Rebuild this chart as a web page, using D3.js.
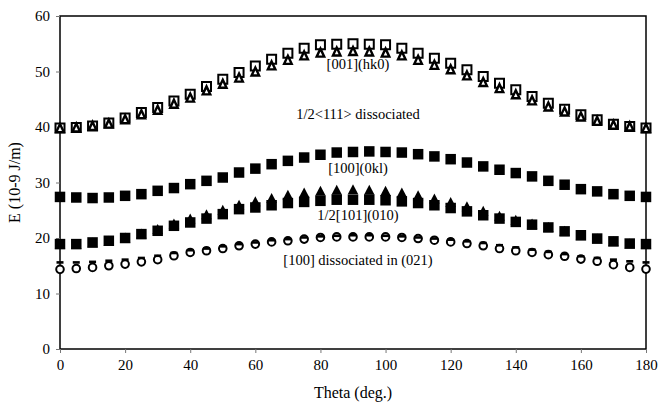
<!DOCTYPE html>
<html>
<head>
<meta charset="utf-8">
<script src="https://cdn.jsdelivr.net/npm/d3@7"></script>
<style>
  body { margin: 0; background: #fff; }
  svg { display: block; font-family: "Liberation Serif", "Times New Roman", serif; }
</style>
</head>
<body>
<div id="chart"></div>
<script>
// theta every 5 degrees
const theta = d3.range(0, 181, 5)

// [001](hk0) pair
const hk0Squares = [39.8, 39.9, 40.2, 40.7, 41.6, 42.6, 43.5, 44.7, 45.9, 47.3, 48.6, 49.8, 51.0, 52.2, 53.3, 54.2, 54.8, 54.9, 55.0,
  54.9, 54.8, 54.2, 53.3, 52.4, 51.5, 50.3, 49.1, 47.9, 46.7, 45.5, 44.3, 43.2, 42.2, 41.3, 40.5, 40.1, 39.8]
const hk0Triangles = [39.8, 39.9, 40.2, 40.6, 41.4, 42.3, 43.1, 44.2, 45.3, 46.6, 47.8, 48.9, 50.0, 51.1, 52.1, 52.9, 53.4, 53.6, 53.7,
  53.6, 53.4, 52.9, 52.1, 51.2, 50.4, 49.3, 48.1, 47.0, 45.9, 44.8, 43.7, 42.8, 41.9, 41.1, 40.4, 40.1, 39.8]

// 1/2<111> dissociated
const diss111 = [27.4, 27.3, 27.2, 27.3, 27.6, 27.9, 28.5, 29.0, 29.7, 30.3, 30.9, 31.8, 32.5, 33.3, 33.9, 34.5, 35.0, 35.4, 35.5,
  35.6, 35.5, 35.4, 35.1, 34.7, 34.2, 33.6, 32.9, 32.3, 31.7, 31.1, 30.3, 29.6, 28.8, 28.4, 27.9, 27.6, 27.4]

// [100](0kl) and 1/2[101](010)
const squaresLow = [18.9, 18.9, 19.2, 19.5, 20.0, 20.7, 21.3, 22.2, 22.8, 23.5, 24.3, 25.2, 25.5, 25.9, 26.3, 26.5, 26.7, 26.9, 26.9,
  26.9, 26.8, 26.6, 26.3, 25.9, 25.4, 24.8, 24.1, 23.5, 22.9, 22.4, 21.9, 21.2, 20.5, 19.9, 19.4, 19.0, 18.9]
const trianglesLow = [18.9, 18.9, 19.2, 19.5, 20.1, 20.8, 21.6, 22.6, 23.5, 24.3, 25.1, 26.0, 26.6, 27.2, 27.8, 28.2, 28.5, 28.7, 28.8,
  28.7, 28.5, 28.2, 27.7, 27.1, 26.5, 25.7, 24.9, 24.0, 23.3, 22.6, 22.0, 21.3, 20.5, 19.9, 19.4, 19.0, 18.9]

// [100] dissociated in (021)
const circles021 = [14.35, 14.5, 14.7, 15.0, 15.3, 15.7, 16.1, 16.8, 17.4, 17.7, 18.1, 18.6, 18.9, 19.3, 19.5, 19.8, 20.1, 20.2, 20.2,
  20.2, 20.2, 20.1, 19.9, 19.6, 19.3, 19.0, 18.6, 18.1, 17.7, 17.4, 17.0, 16.7, 16.2, 15.8, 15.2, 14.7, 14.4]
const dashes021 = [15.6, 15.6, 15.7, 15.9, 16.1, 16.4, 16.8, 17.3, 17.8, 18.1, 18.5, 18.9, 19.2, 19.6, 19.8, 20.1, 20.3, 20.4, 20.5,
  20.5, 20.4, 20.3, 20.1, 19.9, 19.7, 19.4, 19.1, 18.7, 18.3, 17.9, 17.5, 17.1, 16.7, 16.4, 16.1, 15.8, 15.6]

const xTicks = [0, 20, 40, 60, 80, 100, 120, 140, 160, 180]
const yTicks = [0, 10, 20, 30, 40, 50, 60]

const labels = [
  { text: "[001](hk0)", x: 90, y: 50.5 },
  { text: "1/2<111> dissociated", x: 90, y: 41.4 },
  { text: "[100](0kl)", x: 90, y: 31.8 },
  { text: "1/2[101](010)", x: 90, y: 23.3 },
  { text: "[100] dissociated in (021)", x: 90, y: 15.2 },
]

const width = 658
const height = 411
const margin = { top: 16, right: 12, bottom: 62, left: 60 }

const x = d3.scaleLinear().domain([0, 180]).range([margin.left, width - margin.right])
const y = d3.scaleLinear().domain([0, 60]).range([height - margin.bottom, margin.top])

const svg = d3.select("#chart").append("svg")
  .attr("width", width)
  .attr("height", height)

// frame
svg.append("rect")
  .attr("x", x(0)).attr("y", y(60))
  .attr("width", x(180) - x(0)).attr("height", y(0) - y(60))
  .attr("fill", "none").attr("stroke", "#000").attr("stroke-width", 1.5)

const xAxis = svg.append("g")
  .attr("transform", `translate(0,${y(0)})`)
  .call(d3.axisBottom(x).tickValues(xTicks).tickSize(4).tickPadding(6))
const yAxis = svg.append("g")
  .attr("transform", `translate(${x(0)},0)`)
  .call(d3.axisLeft(y).tickValues(yTicks).tickSize(4).tickPadding(6))

;[xAxis, yAxis].forEach(g => {
  g.select(".domain").remove()
  g.selectAll(".tick line").attr("stroke", "#777")
  g.selectAll(".tick text")
    .attr("font-family", "Liberation Serif, serif")
    .attr("font-size", 15)
    .attr("fill", "#000")
})

svg.append("text")
  .attr("x", (x(0) + x(180)) / 2).attr("y", 398)
  .attr("text-anchor", "middle")
  .attr("font-size", 16)
  .text("Theta (deg.)")

svg.append("text")
  .attr("transform", `translate(20,${(y(0) + y(60)) / 2}) rotate(-90)`)
  .attr("text-anchor", "middle")
  .attr("font-size", 16)
  .text("E (10-9 J/m)")

const sq = s => `M${-s / 2},${-s / 2}h${s}v${s}h${-s}Z`
const tri = (w, h) => `M0,${-h / 2}L${w / 2},${h / 2}L${-w / 2},${h / 2}Z`

function drawSeries(values, path, fill, stroke, sw) {
  svg.append("g")
    .selectAll("path")
    .data(values)
    .join("path")
      .attr("transform", (d, i) => `translate(${x(theta[i])},${y(d)})`)
      .attr("d", path)
      .attr("fill", fill)
      .attr("stroke", stroke)
      .attr("stroke-width", sw)
      .attr("stroke-linejoin", "miter")
}

drawSeries(hk0Squares, sq(9), "#fff", "#000", 2)
drawSeries(hk0Triangles, tri(7.5, 8), "#fff", "#000", 2.4)
drawSeries(diss111, sq(10.5), "#000", "none", 0)
drawSeries(squaresLow, sq(10.5), "#000", "none", 0)
drawSeries(trianglesLow, tri(10.5, 10), "#000", "none", 0)

svg.append("g")
  .selectAll("circle")
  .data(circles021)
  .join("circle")
    .attr("cx", (d, i) => x(theta[i]))
    .attr("cy", d => y(d))
    .attr("r", 3.8)
    .attr("fill", "#fff")
    .attr("stroke", "#000")
    .attr("stroke-width", 2)

svg.append("g")
  .selectAll("rect")
  .data(dashes021)
  .join("rect")
    .attr("x", (d, i) => x(theta[i]) - 3.5)
    .attr("y", d => y(d) - 1.3)
    .attr("width", 7)
    .attr("height", 2.6)
    .attr("fill", "#000")

svg.append("g")
  .selectAll("text")
  .data(labels)
  .join("text")
    .attr("x", d => x(d.x) + 5)
    .attr("y", d => y(d.y))
    .attr("text-anchor", "middle")
    .attr("font-size", 14.5)
    .text(d => d.text)
</script>
</body>
</html>
